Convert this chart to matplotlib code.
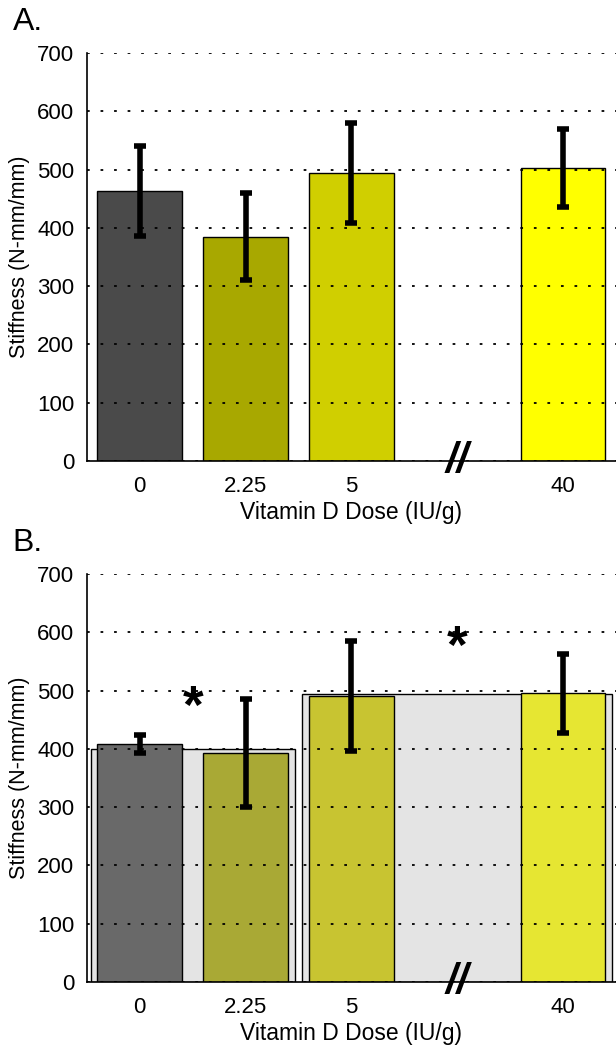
import matplotlib
matplotlib.use('Agg')
import matplotlib.pyplot as plt
from matplotlib.patches import Rectangle

plt.rcParams['font.family'] = ['Liberation Sans', 'DejaVu Sans']

doses = ['0', '2.25', '5', '40']
positions = [0, 1, 2, 4]

# panel A
stiff_a = [463, 385, 494, 503]
err_a = [77, 75, 86, 67]
colors_a = ['#4a4a4a', '#a8a800', '#d0cf00', '#ffff00']

# panel B
stiff_b = [408, 393, 491, 495]
err_b = [16, 92, 94, 67]
colors_b = ['#696969', '#a9a935', '#c8c431', '#e6e632']

# grey group boxes in panel B: (x start, x end, height)
group_start = [-0.46, 1.535]
group_end = [1.47, 4.465]
group_height = [400, 494]

# significance stars
star_x = [0.5, 3.0]
star_y = [468, 572]


def setup(ax, label):
    ax.set_xlim(-0.5, 4.5)
    ax.set_ylim(0, 700)
    ax.set_yticks(range(0, 701, 100))
    ax.set_xticks(positions)
    ax.set_xticklabels(doses)
    ax.tick_params(axis='x', length=0, labelsize=16, pad=11)
    ax.tick_params(axis='y', length=0, labelsize=16, pad=9)
    ax.spines['top'].set_visible(False)
    ax.spines['right'].set_visible(False)
    ax.spines['left'].set_linewidth(1.2)
    ax.spines['bottom'].set_linewidth(1.2)
    ax.yaxis.grid(True, color='black', linestyle=(0, (1.5, 6)), linewidth=1.3)
    ax.set_axisbelow(False)
    for gl in ax.get_ygridlines():
        gl.set_zorder(1.5)
    ax.set_ylabel('Stiffness (N-mm/mm)', fontsize=15.5, labelpad=5)
    ax.set_xlabel('Vitamin D Dose (IU/g)', fontsize=16.5, labelpad=3)
    ax.text(-0.14, 1.075, label, transform=ax.transAxes, fontsize=23, va='center', ha='left')
    ax.text(3, 0, '//', fontsize=30, fontweight='bold', style='italic', ha='center', va='center',
            zorder=5, clip_on=False)


fig = plt.figure(figsize=(6.16, 10.47), dpi=100)
ax1 = fig.add_axes([0.141, 0.5597, 0.859, 0.3897])
ax2 = fig.add_axes([0.141, 0.0621, 0.859, 0.3897])

setup(ax1, 'A.')
ax1.bar(positions, stiff_a, width=0.8, color=colors_a, edgecolor='black', linewidth=1, zorder=2)
ax1.errorbar(positions, stiff_a, yerr=err_a, fmt='none', ecolor='black', elinewidth=4,
             capsize=4, capthick=4, zorder=3)

setup(ax2, 'B.')
for x0, x1, h in zip(group_start, group_end, group_height):
    ax2.add_patch(Rectangle((x0, 0), x1 - x0, h, facecolor='#e4e4e4', edgecolor='black',
                            linewidth=1, zorder=1))
ax2.bar(positions, stiff_b, width=0.8, color=colors_b, edgecolor='black', linewidth=1, zorder=2)
ax2.errorbar(positions, stiff_b, yerr=err_b, fmt='none', ecolor='black', elinewidth=4,
             capsize=4, capthick=4, zorder=3)
for sx, sy in zip(star_x, star_y):
    ax2.text(sx, sy, '*', fontsize=38, fontweight='bold', ha='center', va='center', zorder=4)

fig.savefig('out.png', dpi=100)
